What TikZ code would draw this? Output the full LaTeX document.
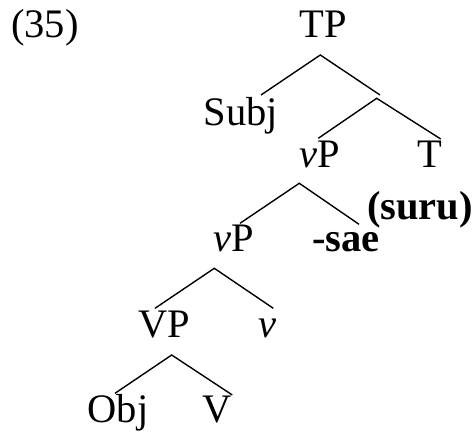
\documentclass[tikz,border=0pt]{standalone}
\usepackage{fontspec}
\setmainfont{Liberation Serif}
\begin{document}
\begin{tikzpicture}[x=1pt,y=1pt,
  lbl/.style={anchor=base,inner sep=0pt,font=\fontsize{40.5}{48}\selectfont},
  branch/.style={line width=1.4pt,line cap=butt,line join=miter}]
\useasboundingbox (0,0) rectangle (476,433);
% labels (y = 433 - baseline px)
\node[lbl,anchor=base west] (ex) at (11,395) {(35)};
\node[lbl] (tp) at (323,395) {TP};
\node[lbl] (subj) at (241,307) {Subj};
\node[lbl] (vp1) at (320,265) {\textit{v}P};
\node[lbl] (t) at (430,265) {T};
\node[lbl] (suru) at (420,213) {\textbf{(suru)}};
\node[lbl] (vp2) at (233.5,181) {\textit{v}P};
\node[lbl] (sae) at (346,181) {\textbf{-sae}};
\node[lbl] (VP) at (164,95) {VP};
\node[lbl] (vh) at (267,95) {\textit{v}};
\node[lbl] (obj) at (118,10) {Obj};
\node[lbl] (V) at (217.5,10) {V};
% branch points
\coordinate (a1) at (320.3,378);
\coordinate (a1l) at (261,338);
\coordinate (a1r) at (380,338);
\coordinate (a2) at (376.7,334.7);
\coordinate (a2l) at (318.3,294.7);
\coordinate (a2r) at (440.7,294);
\coordinate (a3) at (299.3,249.7);
\coordinate (a3l) at (240,209.7);
\coordinate (a3r) at (359,208.7);
\coordinate (a4) at (214.3,164.7);
\coordinate (a4l) at (155,124.7);
\coordinate (a4r) at (273.3,124.7);
\coordinate (a5) at (171.7,78);
\coordinate (a5l) at (115,39.7);
\coordinate (a5r) at (232.3,38);
\draw[branch] (a1l) -- (a1) -- (a1r);
\draw[branch] (a2l) -- (a2) -- (a2r);
\draw[branch] (a3l) -- (a3) -- (a3r);
\draw[branch] (a4l) -- (a4) -- (a4r);
\draw[branch] (a5l) -- (a5) -- (a5r);
\end{tikzpicture}
\end{document}
